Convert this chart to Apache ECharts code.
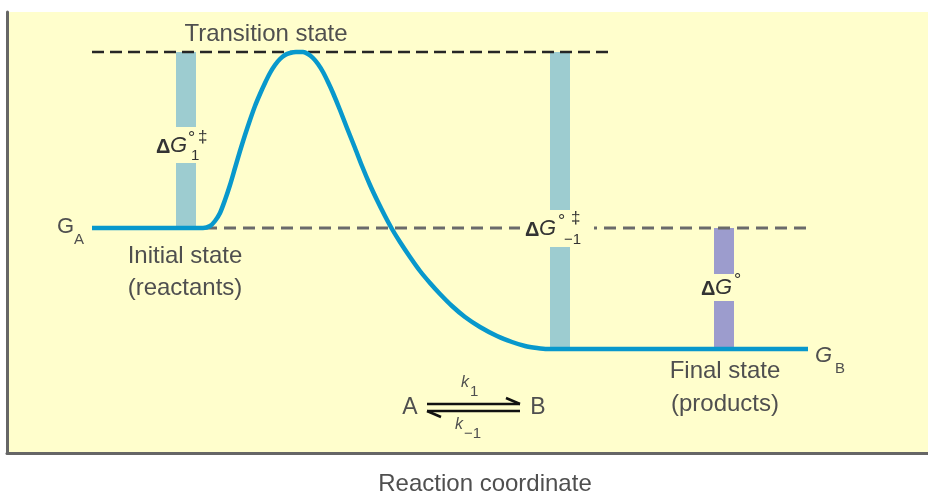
<!DOCTYPE html>
<html>
<head>
<meta charset="utf-8">
<script src="https://cdn.jsdelivr.net/npm/echarts@6/dist/echarts.min.js"></script>
<style>
html, body { margin: 0; padding: 0; background: #fff; }
#main { width: 928px; height: 495px; }
</style>
</head>
<body>
<div id="main"></div>
<script>
// free energy profile, x = reaction coordinate, y = free energy (axis units)
var curveX = [85, 196, 203, 208, 213, 218, 223, 228, 233, 238, 243, 248, 253, 258, 263, 268, 273, 278, 283, 289,
    296, 301, 306, 311, 316, 321, 326, 333, 340, 348, 355, 363, 370, 378, 385, 393, 403, 413, 423, 433,
    445, 458, 473, 490, 505, 518, 530, 540, 801];
var curveY = [225, 225, 227, 232, 240, 253, 268, 285, 302, 318, 333, 347, 359, 370, 380, 388, 394, 398, 400, 401,
    401, 399, 395, 389, 381, 371, 360, 343, 325, 305, 287, 268, 253, 237, 224, 211, 196, 182, 170, 159,
    147, 136, 126, 117, 111, 107, 105, 104, 104];

var G_A = 225, G_TS = 401, G_B = 104;
var tsLineX = [85, 605];   // transition state level
var gaLineX = [198, 801];  // initial state level

// energy difference bars
var barX = [179, 553, 717];
var barFrom = [G_A, G_B, G_B];
var barTo = [G_TS, G_TS, G_A];
var barLabelY = [308, 225, 166];
var barColors = ['#9dccd0', '#9dccd0', '#9c9ccd'];

var bg = '#fffecc';
var txt = '#4f4f4f';
var dark = '#333';

function pairs(xs, ys) {
    var out = [];
    for (var i = 0; i < xs.length; i++) out.push([xs[i], ys[i]]);
    return out;
}

var barData = [];
for (var i = 0; i < barX.length; i++) {
    barData.push([barX[i], barFrom[i], barTo[i], barLabelY[i]]);
}

function renderBar(params, api) {
    var i = params.dataIndex;
    var top = api.coord([api.value(0), api.value(2)]);
    var bot = api.coord([api.value(0), api.value(1)]);
    var w = 20;
    return {
        type: 'rect',
        shape: { x: top[0] - w / 2, y: top[1], width: w, height: bot[1] - top[1] },
        style: { fill: barColors[i] }
    };
}

function t(text, x, y, size, opt) {
    opt = opt || {};
    return {
        type: 'text',
        style: {
            text: text, x: x, y: y,
            font: (opt.style || '') + ' ' + (opt.weight || 'normal') + ' ' + size + 'px "Liberation Sans", Arial, sans-serif',
            fill: opt.color || dark,
            textAlign: opt.align || 'left',
            textVerticalAlign: 'middle'
        }
    };
}

function renderLabel(params, api) {
    var i = params.dataIndex;
    var c = api.coord([api.value(0), api.value(3)]);
    var cx = c[0], cy = c[1];
    var kids = [];
    if (i === 0) {
        kids.push({ type: 'rect', shape: { x: cx - 32, y: cy - 18, width: 62, height: 36 }, style: { fill: bg } });
        kids.push(t('Δ', cx - 30, cy + 2, 20, { weight: 'bold' }));
        kids.push(t('G', cx - 16, cy + 1, 22, { style: 'italic' }));
        kids.push(t('°', cx + 2, cy - 6, 18));
        kids.push(t('1', cx + 5, cy + 11, 15));
        kids.push(t('‡', cx + 12, cy - 8, 17));
    } else if (i === 1) {
        kids.push({ type: 'rect', shape: { x: cx - 40, y: cy - 18, width: 74, height: 37 }, style: { fill: bg } });
        kids.push(t('Δ', cx - 35, cy + 2, 20, { weight: 'bold' }));
        kids.push(t('G', cx - 21, cy + 1, 22, { style: 'italic' }));
        kids.push(t('°', cx - 2, cy - 6, 18));
        kids.push(t('−1', cx + 4, cy + 12, 15));
        kids.push(t('‡', cx + 11, cy - 10, 17));
    } else {
        kids.push({ type: 'rect', shape: { x: cx - 24, y: cy - 13, width: 50, height: 27 }, style: { fill: bg } });
        kids.push(t('Δ', cx - 23, cy + 2, 20, { weight: 'bold' }));
        kids.push(t('G', cx - 9, cy + 1, 22, { style: 'italic' }));
        kids.push(t('°', cx + 10, cy - 6, 18));
    }
    return { type: 'group', children: kids };
}

var dom = document.getElementById('main');
var myChart = echarts.init(dom);
var option = {
    animation: false,
    backgroundColor: '#fff',
    grid: {
        left: 7, right: 0, top: 12, bottom: 42,
        show: true, backgroundColor: bg, borderWidth: 0
    },
    xAxis: {
        type: 'value', min: 0, max: 921,
        axisLine: { show: true, lineStyle: { color: '#666', width: 3 } },
        axisTick: { show: false }, axisLabel: { show: false }, splitLine: { show: false }
    },
    yAxis: {
        type: 'value', min: 0, max: 441,
        axisLine: { show: true, lineStyle: { color: '#666', width: 3 } },
        axisTick: { show: false }, axisLabel: { show: false }, splitLine: { show: false }
    },
    series: [
        {
            type: 'custom', z: 1, renderItem: renderBar, data: barData, silent: true
        },
        {
            type: 'line', z: 2, showSymbol: false, silent: true,
            data: [[tsLineX[0], G_TS], [tsLineX[1], G_TS]],
            lineStyle: { color: '#262626', width: 2.5, type: [12, 6] }
        },
        {
            type: 'line', z: 2, showSymbol: false, silent: true,
            data: [[gaLineX[0], G_A], [gaLineX[1], G_A]],
            lineStyle: { color: '#6a6a6a', width: 3, type: [12, 7] }
        },
        {
            type: 'custom', z: 3, renderItem: renderLabel, data: barData, silent: true
        },
        {
            type: 'line', z: 4, smooth: 0.25, showSymbol: false, silent: true,
            data: pairs(curveX, curveY),
            lineStyle: { color: '#0898cc', width: 4.5, join: 'round' }
        }
    ],
    graphic: [
        t('Transition state', 266, 34, 24, { color: txt, align: 'center' }),
        t('Initial state', 185, 256, 24, { color: txt, align: 'center' }),
        t('(reactants)', 185, 288, 24, { color: txt, align: 'center' }),
        t('Final state', 725, 371, 24, { color: txt, align: 'center' }),
        t('(products)', 725, 404, 24, { color: txt, align: 'center' }),
        t('Reaction coordinate', 485, 484, 24, { color: txt, align: 'center' }),
        t('G', 57, 227, 22, { color: txt }),
        t('A', 74, 240, 15, { color: txt }),
        t('G', 815, 356, 22, { color: txt, style: 'italic' }),
        t('B', 835, 369, 15, { color: txt }),
        t('A', 410, 408, 23, { color: txt, align: 'center' }),
        t('B', 538, 408, 23, { color: txt, align: 'center' }),
        t('k', 461, 383, 16, { color: txt, style: 'italic' }),
        t('1', 470, 392, 15, { color: txt }),
        t('k', 455, 425, 16, { color: txt, style: 'italic' }),
        t('−1', 464, 434, 15, { color: txt }),
        { type: 'line', shape: { x1: 427, y1: 404, x2: 520, y2: 404 }, style: { stroke: '#111', lineWidth: 2.5 } },
        { type: 'line', shape: { x1: 520, y1: 404, x2: 506, y2: 398 }, style: { stroke: '#111', lineWidth: 2.5 } },
        { type: 'line', shape: { x1: 427, y1: 411, x2: 520, y2: 411 }, style: { stroke: '#111', lineWidth: 2.5 } },
        { type: 'line', shape: { x1: 427, y1: 411, x2: 441, y2: 417 }, style: { stroke: '#111', lineWidth: 2.5 } }
    ]
};
myChart.setOption(option, true);
</script>
</body>
</html>
